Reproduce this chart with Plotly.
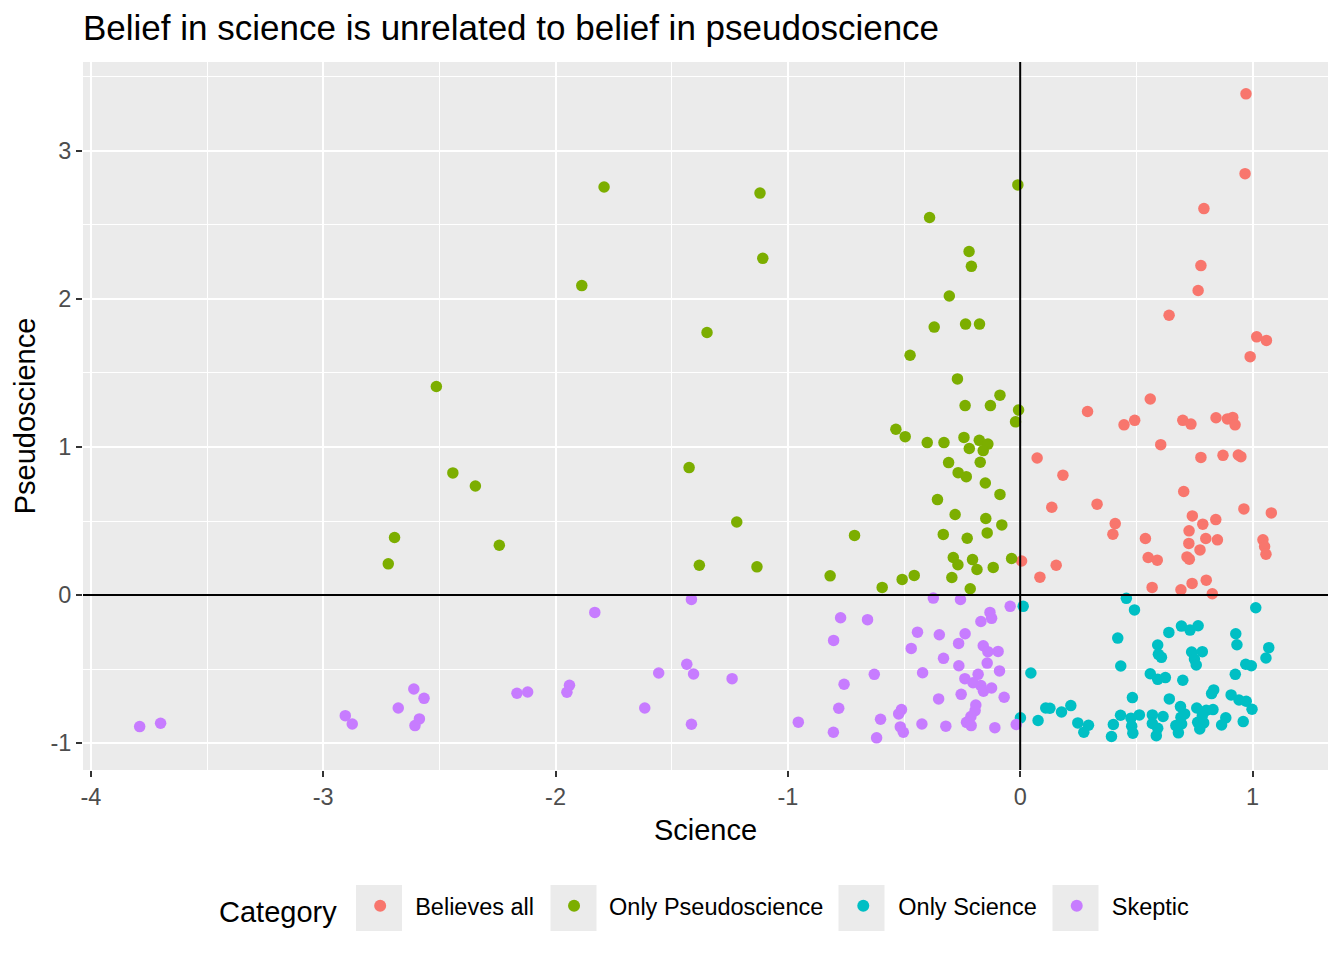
import plotly.graph_objects as go

categories = ["Believes all", "Only Pseudoscience", "Only Science", "Skeptic"]
colors = ["#F8766D", "#7CAE00", "#00BFC4", "#C77CFF"]

# Believes all
believes_x = [0.972, 0.968, 0.791, 0.778, 0.766,
              0.641, 1.018, 1.060, 0.990, 0.560,
              0.290, 0.447, 0.493, 0.700, 0.735,
              0.843, 0.892, 0.915, 0.925, 0.605,
              0.073, 0.184, 0.778, 0.873, 0.939,
              0.950, 0.704, 0.136, 0.331, 0.963,
              1.081, 0.741, 0.786, 0.842, 0.409,
              0.399, 0.727, 0.539, 0.726, 0.799,
              0.849, 1.045, 1.052, 1.058, 0.774,
              0.551, 0.590, 0.718, 0.728, 0.006,
              0.155, 0.085, 0.568, 0.692, 0.740,
              0.801, 0.827]
believes_y = [3.385, 2.846, 2.610, 2.225, 2.057,
              1.890, 1.744, 1.720, 1.610, 1.324,
              1.240, 1.150, 1.180, 1.180, 1.155,
              1.198, 1.190, 1.200, 1.150, 1.016,
              0.926, 0.810, 0.930, 0.944, 0.946,
              0.935, 0.700, 0.593, 0.614, 0.582,
              0.555, 0.535, 0.479, 0.510, 0.483,
              0.411, 0.434, 0.382, 0.349, 0.382,
              0.373, 0.373, 0.328, 0.276, 0.305,
              0.254, 0.236, 0.258, 0.243, 0.230,
              0.202, 0.121, 0.052, 0.036, 0.079,
              0.101, 0.009]

# Only Pseudoscience
pseudo_x = [-0.010, -0.390, -0.220, -0.210, -0.305,
            -0.370, -0.235, -0.175, -0.474, -0.270,
            -0.087, -0.237, -0.128, -0.007, -0.020,
            -0.535, -0.495, -0.400, -0.328, -0.242,
            -0.176, -0.139, -0.219, -0.159, -0.308,
            -0.172, -0.267, -0.232, -0.150, -0.087,
            -0.356, -0.280, -0.148, -0.079, -0.142,
            -0.331, -0.228, -0.288, -0.268, -0.205,
            -0.186, -0.116, -0.037, -0.456, -0.508,
            -0.294, -0.594, -0.215,
            -1.791, -1.120, -1.108, -1.887, -1.348,
            -2.513, -2.442, -2.345, -1.425, -1.220,
            -2.693, -2.242, -2.720, -1.381, -1.133,
            -0.713, -0.818]
pseudo_y = [2.770, 2.550, 2.320, 2.220, 2.020,
            1.810, 1.830, 1.830, 1.620, 1.460,
            1.350, 1.280, 1.280, 1.250, 1.170,
            1.120, 1.070, 1.030, 1.030, 1.065,
            1.045, 1.020, 0.990, 0.976, 0.895,
            0.897, 0.827, 0.800, 0.757, 0.680,
            0.645, 0.544, 0.517, 0.474, 0.420,
            0.410, 0.384, 0.254, 0.205, 0.240,
            0.173, 0.187, 0.247, 0.133, 0.106,
            0.119, 0.052, 0.043,
            2.756, 2.715, 2.274, 2.090, 1.773,
            1.409, 0.825, 0.737, 0.861, 0.494,
            0.389, 0.337, 0.211, 0.202, 0.191,
            0.403, 0.130]

# Only Science
science_x = [0.013, 0.457, 0.492, 1.014, 0.420,
             0.640, 0.694, 0.731, 0.766, 0.928,
             0.933, 0.592, 0.595, 0.608, 0.738,
             0.784, 0.750, 0.758, 1.070, 1.058,
             0.971, 0.995, 0.926, 0.433, 0.560,
             0.592, 0.625, 0.700, 0.046, 0.483,
             0.642, 0.824, 0.833, 0.908, 0.942,
             0.973, 0.998, 0.690, 0.708, 0.760,
             0.801, 0.830, 0.110, 0.128, 0.178,
             0.218, 0.001, 0.077, 0.248, 0.294,
             0.274, 0.401, 0.393, 0.432, 0.477,
             0.513, 0.480, 0.485, 0.569, 0.615,
             0.569, 0.592, 0.586, 0.670, 0.695,
             0.681, 0.692, 0.764, 0.790, 0.773,
             0.885, 0.867, 0.960, 0.784]
science_y = [-0.076, -0.022, -0.100, -0.085, -0.290,
             -0.252, -0.209, -0.236, -0.207, -0.261,
             -0.335, -0.337, -0.400, -0.420, -0.384,
             -0.382, -0.432, -0.472, -0.355, -0.425,
             -0.467, -0.477, -0.535, -0.479, -0.531,
             -0.569, -0.557, -0.575, -0.526, -0.692,
             -0.701, -0.665, -0.640, -0.674, -0.708,
             -0.717, -0.771, -0.753, -0.802, -0.762,
             -0.778, -0.773, -0.762, -0.764, -0.789,
             -0.746, -0.829, -0.847, -0.863, -0.879,
             -0.926, -0.874, -0.955, -0.811, -0.831,
             -0.809, -0.885, -0.932, -0.809, -0.820,
             -0.867, -0.899, -0.949, -0.881, -0.870,
             -0.930, -0.825, -0.859, -0.863, -0.904,
             -0.829, -0.877, -0.854, -0.814]

# Skeptic
skeptic_x = [-0.773, -0.657, -0.803, -0.043, -0.130,
             -0.169, -0.123, -0.442, -0.348, -0.237,
             -0.265, -0.469, -0.159, -0.139, -0.095,
             -0.330, -0.142, -0.264, -0.089, -0.420,
             -0.181, -0.238, -0.203, -0.169, -0.158,
             -0.123, -0.628, -0.758, -0.351, -0.254,
             -0.069, -0.191, -0.194, -0.212, -0.231,
             -0.211, -0.781, -0.511, -0.523, -0.601,
             -0.516, -0.503, -0.804, -0.618, -0.423,
             -0.320, -0.109, -0.017, -0.955, -0.374,
             -0.257,
             -3.790, -3.700, -2.905, -2.875, -2.610,
             -2.566, -2.677, -2.586, -2.605, -1.831,
             -1.415, -2.166, -2.120, -1.940, -1.951,
             -1.556, -1.435, -1.406, -1.240, -1.616,
             -1.415]
skeptic_y = [-0.153, -0.166, -0.306, -0.076, -0.117,
             -0.178, -0.157, -0.250, -0.268, -0.261,
             -0.326, -0.360, -0.342, -0.382, -0.380,
             -0.427, -0.459, -0.477, -0.512, -0.524,
             -0.535, -0.564, -0.591, -0.611, -0.649,
             -0.627, -0.535, -0.602, -0.701, -0.670,
             -0.690, -0.742, -0.780, -0.820, -0.859,
             -0.881, -0.764, -0.773, -0.802, -0.838,
             -0.890, -0.926, -0.926, -0.964, -0.870,
             -0.885, -0.895, -0.874, -0.858, -0.020,
             -0.030,
             -0.888, -0.865, -0.814, -0.870, -0.634,
             -0.697, -0.762, -0.836, -0.881, -0.117,
             -0.029, -0.663, -0.654, -0.609, -0.656,
             -0.526, -0.467, -0.533, -0.564, -0.762,
             -0.872]

x_ticks = [-4, -3, -2, -1, 0, 1]
x_tick_labels = ["-4", "-3", "-2", "-1", "0", "1"]
y_ticks = [-1, 0, 1, 2, 3]
y_tick_labels = ["-1", "0", "1", "2", "3"]

xs = [believes_x, pseudo_x, science_x, skeptic_x]
ys = [believes_y, pseudo_y, science_y, skeptic_y]

FONT = "Liberation Sans, Arial, Helvetica, sans-serif"

# the page has an 8px body margin, so the figure is a bit smaller
W, H = 1336, 952
ML, MR, MT, MB = 75, 16, 54, 190
pw, ph = W - ML - MR, H - MT - MB


def to_paper(px, py):
    # page pixel -> paper coords (page has 8px offset)
    return (px - 8 - ML) / pw, (H - MB - (py - 8)) / ph


fig = go.Figure()
for name, col, x, y in zip(categories, colors, xs, ys):
    fig.add_trace(go.Scatter(x=x, y=y, mode="markers", name=name,
                             marker=dict(color=col, size=11.5, line=dict(width=0))))

fig.add_hline(y=0, line_color="black", line_width=2)
fig.add_vline(x=0, line_color="black", line_width=2)

# grey key boxes behind the legend symbols
for cx in [379, 573.5, 861.5, 1075.5]:
    x0, y0 = to_paper(cx - 23, 931)
    x1, y1 = to_paper(cx + 23, 885)
    fig.add_shape(type="rect", xref="paper", yref="paper",
                  x0=x0, x1=x1, y0=y0, y1=y1,
                  fillcolor="#EBEBEB", line=dict(width=0), layer="above")

axis_common = dict(
    showgrid=True, gridcolor="white", gridwidth=2,
    zeroline=False, showline=False,
    ticks="outside", ticklen=6, tickwidth=2, tickcolor="#333333",
    tickfont=dict(size=23.5, color="#4D4D4D", family=FONT),
)

leg_x, leg_y = to_paper(706, 908)

fig.update_layout(
    width=W, height=H,
    margin=dict(l=ML, r=MR, t=MT, b=MB),
    paper_bgcolor="white", plot_bgcolor="#EBEBEB",
    font=dict(family=FONT, color="black"),
    title=dict(text="Belief in science is unrelated to belief in pseudoscience",
               font=dict(size=35, color="black", family=FONT),
               x=0, xref="paper", xanchor="left",
               y=1 - 20 / H, yref="container", yanchor="middle"),
    xaxis=dict(range=[-4.034, 1.325], tickmode="array",
               tickvals=x_ticks, ticktext=x_tick_labels,
               minor=dict(tickmode="linear", tick0=0, dtick=0.5, showgrid=True,
                          gridcolor="white", gridwidth=1),
               title=dict(text="Science", font=dict(size=29, color="black"), standoff=10),
               **axis_common),
    yaxis=dict(range=[-1.181, 3.60], tickmode="array",
               tickvals=y_ticks, ticktext=y_tick_labels,
               minor=dict(tickmode="linear", tick0=0, dtick=0.5, showgrid=True,
                          gridcolor="white", gridwidth=1),
               title=dict(text="Pseudoscience", font=dict(size=29, color="black"), standoff=6),
               **axis_common),
    legend=dict(orientation="h", x=leg_x, xanchor="center",
                y=leg_y, yanchor="middle",
                title=dict(text="Category", side="left", font=dict(size=29)),
                font=dict(size=23.5), itemsizing="constant", itemwidth=60,
                bgcolor="rgba(0,0,0,0)"),
)

fig.write_html("out.html")
